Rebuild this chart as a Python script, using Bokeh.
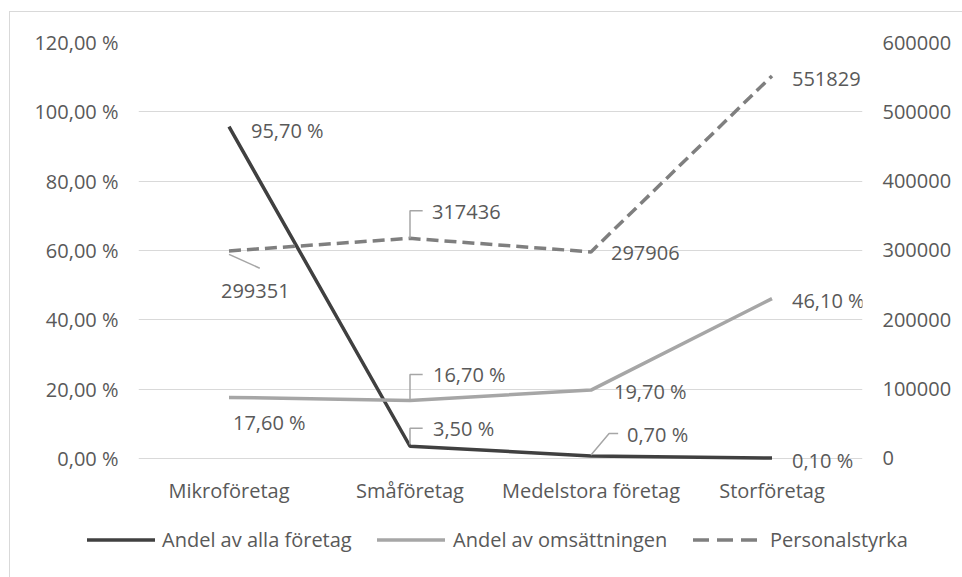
from bokeh.plotting import figure
from bokeh.layouts import column
from bokeh.models import (Range1d, LinearAxis, FactorRange, CustomJSTickFormatter,
                          ColumnDataSource, FixedTicker, LabelSet, Div)
from bokeh.core.properties import value
from bokeh.embed import file_html
from bokeh.resources import INLINE

categories = ["Mikroföretag", "Småföretag", "Medelstora företag", "Storföretag"]
andel_foretag = [95.7, 3.5, 0.7, 0.1]
andel_omsattning = [17.6, 16.7, 19.7, 46.1]
personalstyrka = [299351, 317436, 297906, 551829]
left_ticks = [0, 20, 40, 60, 80, 100, 120]
right_ticks = [0, 100000, 200000, 300000, 400000, 500000, 600000]
series_names = ["Andel av alla företag", "Andel av omsättningen", "Personalstyrka"]

FONT = "Open Sans"
TXT = "#595959"
FS = "20px"
C_DARK, C_LIGHT, C_DASH = "#404040", "#a6a6a6", "#7f7f7f"
DASH = "12 6"

p = figure(width=950, height=498, x_range=FactorRange(*categories, range_padding=0),
           y_range=Range1d(-3.5, 120), output_backend="svg", toolbar_location=None,
           min_border_left=128, min_border_top=30, min_border_right=98, min_border_bottom=40)
p.extra_y_ranges = {"pers": Range1d(-17500, 600000)}
p.outline_line_color = None

p.xgrid.grid_line_color = None
p.ygrid.grid_line_color = "#d9d9d9"
p.ygrid.grid_line_width = 1
p.yaxis.ticker = FixedTicker(ticks=left_ticks)

p.yaxis.formatter = CustomJSTickFormatter(code="return tick.toFixed(2).replace('.', ',') + ' %';")
for ax in [p.yaxis[0], p.xaxis[0]]:
    ax.axis_line_color = None
    ax.major_tick_line_color = None
    ax.minor_tick_line_color = None
    ax.major_label_text_font = FONT
    ax.major_label_text_color = TXT
    ax.major_label_text_font_size = FS
p.yaxis.major_label_standoff = 14
p.xaxis.major_label_standoff = 0

ra = LinearAxis(y_range_name="pers", ticker=FixedTicker(ticks=right_ticks),
                formatter=CustomJSTickFormatter(code="return tick.toFixed(0);"))
ra.axis_line_color = None
ra.major_tick_line_color = None
ra.minor_tick_line_color = None
ra.major_label_text_font = FONT
ra.major_label_text_color = TXT
ra.major_label_text_font_size = FS
ra.major_label_standoff = 14
p.add_layout(ra, "right")

src = ColumnDataSource(dict(x=categories, a=andel_foretag, o=andel_omsattning, pz=personalstyrka))

p.line("x", "a", source=src, line_color=C_DARK, line_width=3.5)
p.line("x", "o", source=src, line_color=C_LIGHT, line_width=3.5)
p.line("x", "pz", source=src, y_range_name="pers", line_color=C_DASH,
       line_width=3.5, line_dash=DASH)

def fmt_pct(v):
    return f"{v:.2f}".replace(".", ",") + " %"

# data labels: offsets in screen px (x right, y down)
lab_a = dict(x=categories, y=andel_foretag, t=[fmt_pct(v) for v in andel_foretag],
             dx=[22, 23, 36, 20], dy=[4, -18, -21, 2])
lab_o = dict(x=categories, y=andel_omsattning, t=[fmt_pct(v) for v in andel_omsattning],
             dx=[4, 23, 23, 20], dy=[25, -26, 1, 2])
lab_p = dict(x=categories, y=personalstyrka, t=[str(v) for v in personalstyrka],
             dx=[-8, 22, 20, 20], dy=[40, -26, 1, 3])

for d, rng in [(lab_a, "default"), (lab_o, "default"), (lab_p, "pers")]:
    d = dict(d)
    d["ndy"] = [-v for v in d["dy"]]
    s = ColumnDataSource(d)
    ls = LabelSet(x="x", y="y", text="t", source=s, x_offset="dx", y_offset="ndy",
                  text_font=value(FONT), text_font_size=FS, text_color=TXT,
                  text_align="left", text_baseline="middle", y_range_name=rng)
    p.add_layout(ls)

# leader lines (relative to data points, in data units)
lead_color = "#a6a6a6"
p.segment(x0=[(categories[0], 0.0)], y0=[personalstyrka[0] - 5000],
          x1=[(categories[0], 0.17)], y1=[personalstyrka[0] - 25000],
          y_range_name="pers", line_color=lead_color, line_width=1.5)
p.multi_line(xs=[[(categories[1], 0.0), (categories[1], 0.0), (categories[1], 0.07)]],
             ys=[[personalstyrka[1], personalstyrka[1] + 40000, personalstyrka[1] + 40000]],
             y_range_name="pers", line_color=lead_color, line_width=1.5)
p.multi_line(xs=[[(categories[1], 0.0), (categories[1], 0.0), (categories[1], 0.07)]],
             ys=[[andel_omsattning[1], andel_omsattning[1] + 7.5, andel_omsattning[1] + 7.5]],
             line_color=lead_color, line_width=1.5)
p.multi_line(xs=[[(categories[1], 0.0), (categories[1], 0.0), (categories[1], 0.07)]],
             ys=[[andel_foretag[1] + 0.5, andel_foretag[1] + 5.2, andel_foretag[1] + 5.2]],
             line_color=lead_color, line_width=1.5)
p.multi_line(xs=[[(categories[2], 0.0), (categories[2], 0.1), (categories[2], 0.15)]],
             ys=[[andel_foretag[2] + 0.3, andel_foretag[2] + 6.5, andel_foretag[2] + 6.5]],
             line_color=lead_color, line_width=1.5)

# legend strip below the chart (HTML)
LG_H = 67
key_x0 = [72, 362, 678]
key_len = 68
text_x = [147, 438, 755]
key_y = 25
colors = [C_DARK, C_LIGHT, C_DASH]
dasharray = ["none", "none", "16 8"]
parts = []
for i in range(3):
    parts.append(
        f'<svg style="position:absolute;left:{key_x0[i]}px;top:{key_y - 4}px" '
        f'width="{key_len}" height="8"><line x1="0" y1="4" x2="{key_len}" y2="4" '
        f'stroke="{colors[i]}" stroke-width="3.5" stroke-dasharray="{dasharray[i]}"/></svg>')
    parts.append(
        f'<span style="position:absolute;left:{text_x[i]}px;top:{key_y}px;'
        f'transform:translateY(-50%);line-height:1;white-space:nowrap">{series_names[i]}</span>')
html = (f'<div style="position:relative;width:950px;height:{LG_H}px;'
        f"font-family:'{FONT}';font-size:{FS};color:{TXT}\">" + "".join(parts) + "</div>")
lg = Div(text=html, width=950, height=LG_H)

layout = column(p, lg, spacing=0,
                styles={"border": "1px solid #d9d9d9", "margin-left": "9px", "margin-top": "11px"})

open("out.html", "w").write(file_html(layout, INLINE))
